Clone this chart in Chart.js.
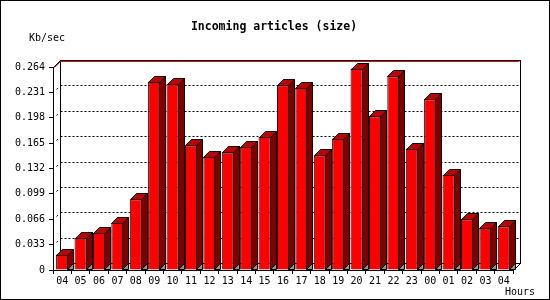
<!DOCTYPE html>
<html>
<head>
<meta charset="utf-8">
<script src="https://cdn.jsdelivr.net/npm/chart.js@4/dist/chart.umd.min.js"></script>
<style>
  html, body { margin: 0; padding: 0; background: #fff; }
  #wrap { width: 550px; height: 300px; }
</style>
</head>
<body>
<div id="wrap"><canvas id="sizeChart" width="550" height="300"></canvas></div>
<script>
// Dữ liệu biểu đồ
const hours = ['04','05','06','07','08','09','10','11','12','13','14','15','16',
               '17','18','19','20','21','22','23','00','01','02','03','04'];
const kbPerSec = [0.020, 0.042, 0.048, 0.061, 0.092, 0.245, 0.242, 0.162, 0.147,
                  0.153, 0.160, 0.173, 0.240, 0.237, 0.149, 0.171, 0.262, 0.200,
                  0.252, 0.158, 0.222, 0.124, 0.066, 0.055, 0.057];
const yTicks = [0, 0.033, 0.066, 0.099, 0.132, 0.165, 0.198, 0.231, 0.264];

const titleText = 'Incoming articles (size)';
const yTitle = 'Kb/sec';
const xTitle = 'Hours';

const FONT = '"DejaVu Sans Mono", monospace';
const DEPTH = 7;     // độ sâu tường sau
const BAR_D = 6;     // độ sâu cột

function poly(ctx, pts, fill) {
    ctx.beginPath();
    ctx.moveTo(pts[0][0], pts[0][1]);
    for (let i = 1; i < pts.length; i++) ctx.lineTo(pts[i][0], pts[i][1]);
    ctx.closePath();
    ctx.fillStyle = fill;
    ctx.fill();
    ctx.strokeStyle = '#000';
    ctx.lineWidth = 1;
    ctx.stroke();
}

// Vẽ tường sau, lưới chấm, tiêu đề
const wallPlugin = {
    id: 'wall',
    beforeDatasetsDraw(chart) {
        const ctx = chart.ctx;
        const ca = chart.chartArea;
        const y = chart.scales.y;
        const L = Math.round(ca.left) + 0.5, R = Math.round(ca.right) + 0.5;
        const T = Math.round(ca.top) + 0.5, B = Math.round(ca.bottom) + 0.5;
        ctx.save();
        // tường sau
        ctx.fillStyle = '#fff';
        ctx.fillRect(L + DEPTH, T - DEPTH, R - L, B - T);
        ctx.strokeStyle = '#000';
        ctx.lineWidth = 1;
        ctx.strokeRect(L + DEPTH, T - DEPTH, R - L, B - T);

        // lưới chấm
        ctx.setLineDash([2, 2]);
        yTicks.forEach(v => {
            if (v === 0 || v === yTicks[yTicks.length - 1]) return;
            const py = Math.round(y.getPixelForValue(v)) + 0.5;
            ctx.beginPath();
            ctx.moveTo(L + DEPTH, py - DEPTH);
            ctx.lineTo(R + DEPTH, py - DEPTH);
            ctx.stroke();
            ctx.beginPath();
            ctx.moveTo(L + 3, py - 3);
            ctx.lineTo(L + 5, py - 5);
            ctx.stroke();
        });
        ctx.setLineDash([]);

        // cạnh chéo
        ctx.beginPath();
        ctx.moveTo(L, T); ctx.lineTo(L + DEPTH, T - DEPTH);
        ctx.moveTo(R, B); ctx.lineTo(R + DEPTH, B - DEPTH);
        ctx.moveTo(L + DEPTH, T - DEPTH); ctx.lineTo(L + DEPTH, B - DEPTH);
        ctx.stroke();
        // viền đỏ trên
        ctx.strokeStyle = '#ff0000';
        ctx.beginPath();
        ctx.moveTo(L + 1, T); ctx.lineTo(L + DEPTH + 1, T - DEPTH);
        ctx.lineTo(R + DEPTH, T - DEPTH);
        ctx.moveTo(L + DEPTH, T - DEPTH + 1); ctx.lineTo(R + DEPTH - 1, T - DEPTH + 1);
        ctx.stroke();
        ctx.strokeStyle = '#000';
        ctx.beginPath();
        ctx.moveTo(L + DEPTH, T - DEPTH); ctx.lineTo(R + DEPTH, T - DEPTH);
        ctx.stroke();
        ctx.restore();
    },
    afterDatasetsDraw(chart) {
        const ctx = chart.ctx;
        const meta = chart.getDatasetMeta(0);
        ctx.save();
        meta.data.forEach(bar => {
            const left = Math.round(bar.x - bar.width / 2) + 0.5;
            const right = Math.round(bar.x + bar.width / 2) - 0.5;
            const top = Math.round(bar.y) + 0.5;
            const base = Math.round(bar.base) - 0.5;
            const d = BAR_D;
            // mặt trên
            poly(ctx, [[left, top], [left + d, top - d], [right + d, top - d], [right, top]], '#c40000');
            // mặt bên
            poly(ctx, [[right, top], [right + d, top - d], [right + d, base - d], [right, base]], '#800000');
            // bóng dưới sàn
            poly(ctx, [[right, base], [right + d, base - d], [right + d, base]], '#909090');
        });
        ctx.restore();
    },
    afterDraw(chart) {
        const ctx = chart.ctx;
        ctx.save();
        ctx.fillStyle = '#000';
        ctx.textBaseline = 'middle';
        ctx.font = 'bold 11.5px ' + FONT;
        ctx.textAlign = 'center';
        ctx.fillText(titleText, 274, 27);
        ctx.font = '10px ' + FONT;
        ctx.textAlign = 'left';
        ctx.fillText(yTitle, 29, 38);
        ctx.textAlign = 'right';
        ctx.fillText(xTitle, 535, 292);
        // khung ngoài
        ctx.strokeStyle = '#000';
        ctx.lineWidth = 1;
        ctx.strokeRect(0.5, 0.5, 549, 299);
        ctx.restore();
    }
};

const ctx = document.getElementById('sizeChart').getContext('2d');
new Chart(ctx, {
    type: 'bar',
    data: {
        labels: hours,
        datasets: [{
            data: kbPerSec,
            backgroundColor: '#ff0000',
            borderColor: '#000',
            borderWidth: 1,
            barPercentage: 0.66,
            categoryPercentage: 1
        }]
    },
    options: {
        responsive: false,
        animation: false,
        layout: { padding: { left: 0, top: 67, right: 37, bottom: 0 } },
        plugins: {
            legend: { display: false },
            tooltip: { enabled: false }
        },
        scales: {
            y: {
                min: 0,
                max: 0.264,
                afterFit: s => { s.width = 53; },
                afterBuildTicks: s => { s.ticks = yTicks.map(v => ({ value: v })); },
                grid: { drawOnChartArea: false, tickLength: 4, color: '#000' },
                border: { color: '#000' },
                ticks: {
                    padding: 4,
                    color: '#000',
                    font: { family: FONT, size: 10 },
                    callback: v => v === 0 ? '0' : v.toFixed(3)
                }
            },
            x: {
                afterFit: s => { s.height = 30; },
                grid: { drawOnChartArea: false, tickLength: 4, color: '#000', offset: true },
                border: { color: '#000' },
                ticks: {
                    padding: 1,
                    color: '#000',
                    maxRotation: 0,
                    autoSkip: false,
                    font: { family: FONT, size: 10 }
                }
            }
        }
    },
    plugins: [wallPlugin]
});
</script>
</body>
</html>
